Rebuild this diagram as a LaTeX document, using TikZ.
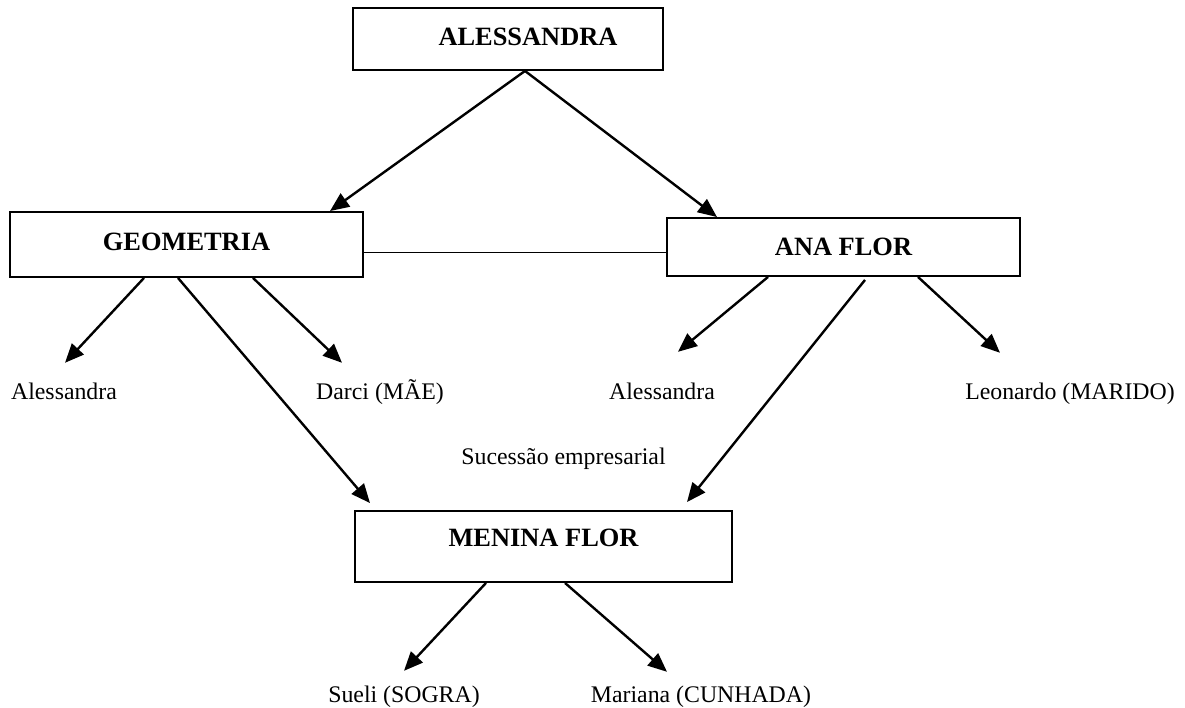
\documentclass[tikz,border=0pt]{standalone}
\usepackage{fontspec}
\setmainfont{Liberation Serif}
\usetikzlibrary{positioning,calc,arrows.meta}
\tikzstyle{edge} = [-{Triangle[length=19pt,width=16pt]}, line width=2.4pt]

\begin{document}
\begin{tikzpicture}[x=1pt, y=-1pt]
\tikzstyle{every node}=[align=center, inner sep=0pt]
\tikzstyle{box}=[draw, line width=1.9pt, font=\fontsize{26.4}{30}\selectfont\bfseries]
\tikzstyle{person}=[anchor=base, font=\fontsize{23.8}{28}\selectfont, text height=16pt, text depth=5pt]
	\useasboundingbox (0,0) rectangle (1185,708);

	\node[box, minimum width=310pt, minimum height=62pt,
	      label={[font=\fontsize{26.4}{30}\selectfont\bfseries, xshift=20pt, yshift=2pt]center:ALESSANDRA}] (ales) at (508,39) {};
	\node[box, minimum width=353pt, minimum height=65pt, text depth=6pt] (geo) at (186.5,244.5) {GEOMETRIA};
	\node[box, minimum width=353pt, minimum height=58pt] (ana) at (843.5,247) {ANA FLOR};
	\node[box, minimum width=377pt, minimum height=71pt, text depth=17pt] (menina) at (543.5,546.5) {MENINA FLOR};

	\node[person] (alesgeo) at (64,399) {Alessandra};
	\node[person] (darci) at (380,399) {Darci (MÃE)};
	\node[person] (alesana) at (662,399) {Alessandra};
	\node[person] (leo) at (1070,399) {Leonardo (MARIDO)};
	\node[person] (sucessao) at (563.5,464) {Sucessão empresarial};
	\node[person] (sueli) at (404,702) {Sueli (SOGRA)};
	\node[person] (mariana) at (701,702) {Mariana (CUNHADA)};

	\draw[edge] ([xshift=17pt]ales.south) -- ([xshift=143.5pt]geo.north);
	\draw[edge] ([xshift=17pt]ales.south) -- ([xshift=-126.5pt]ana.north);
	\draw[line width=1.9pt] ([yshift=-8pt]geo.east) -- ([yshift=-8pt]geo.east -| ana.west);

	\draw[edge] ([xshift=-42.5pt]geo.south) -- ([xshift=1pt, yshift=20pt]alesgeo.north);
	\draw[edge] ([xshift=66.5pt]geo.south) -- ([xshift=-38pt, yshift=20pt]darci.north);
	\draw[edge] ([xshift=-8.5pt]geo.south) -- ([xshift=-173.5pt, yshift=7pt]menina.north);

	\draw[edge] ([xshift=-75.5pt]ana.south) -- ([xshift=16pt, yshift=31pt]alesana.north);
	\draw[edge] ([xshift=74.5pt]ana.south) -- ([xshift=-70pt, yshift=30pt]leo.north);
	\draw[edge] ([xshift=21.5pt, yshift=-3pt]ana.south) -- ([xshift=143.5pt, yshift=8pt]menina.north);

	\draw[edge] ([xshift=-57.5pt]menina.south) -- ([yshift=15pt]sueli.north);
	\draw[edge] ([xshift=21.5pt]menina.south) -- ([xshift=-34pt, yshift=14pt]mariana.north);
\end{tikzpicture}
\end{document}
